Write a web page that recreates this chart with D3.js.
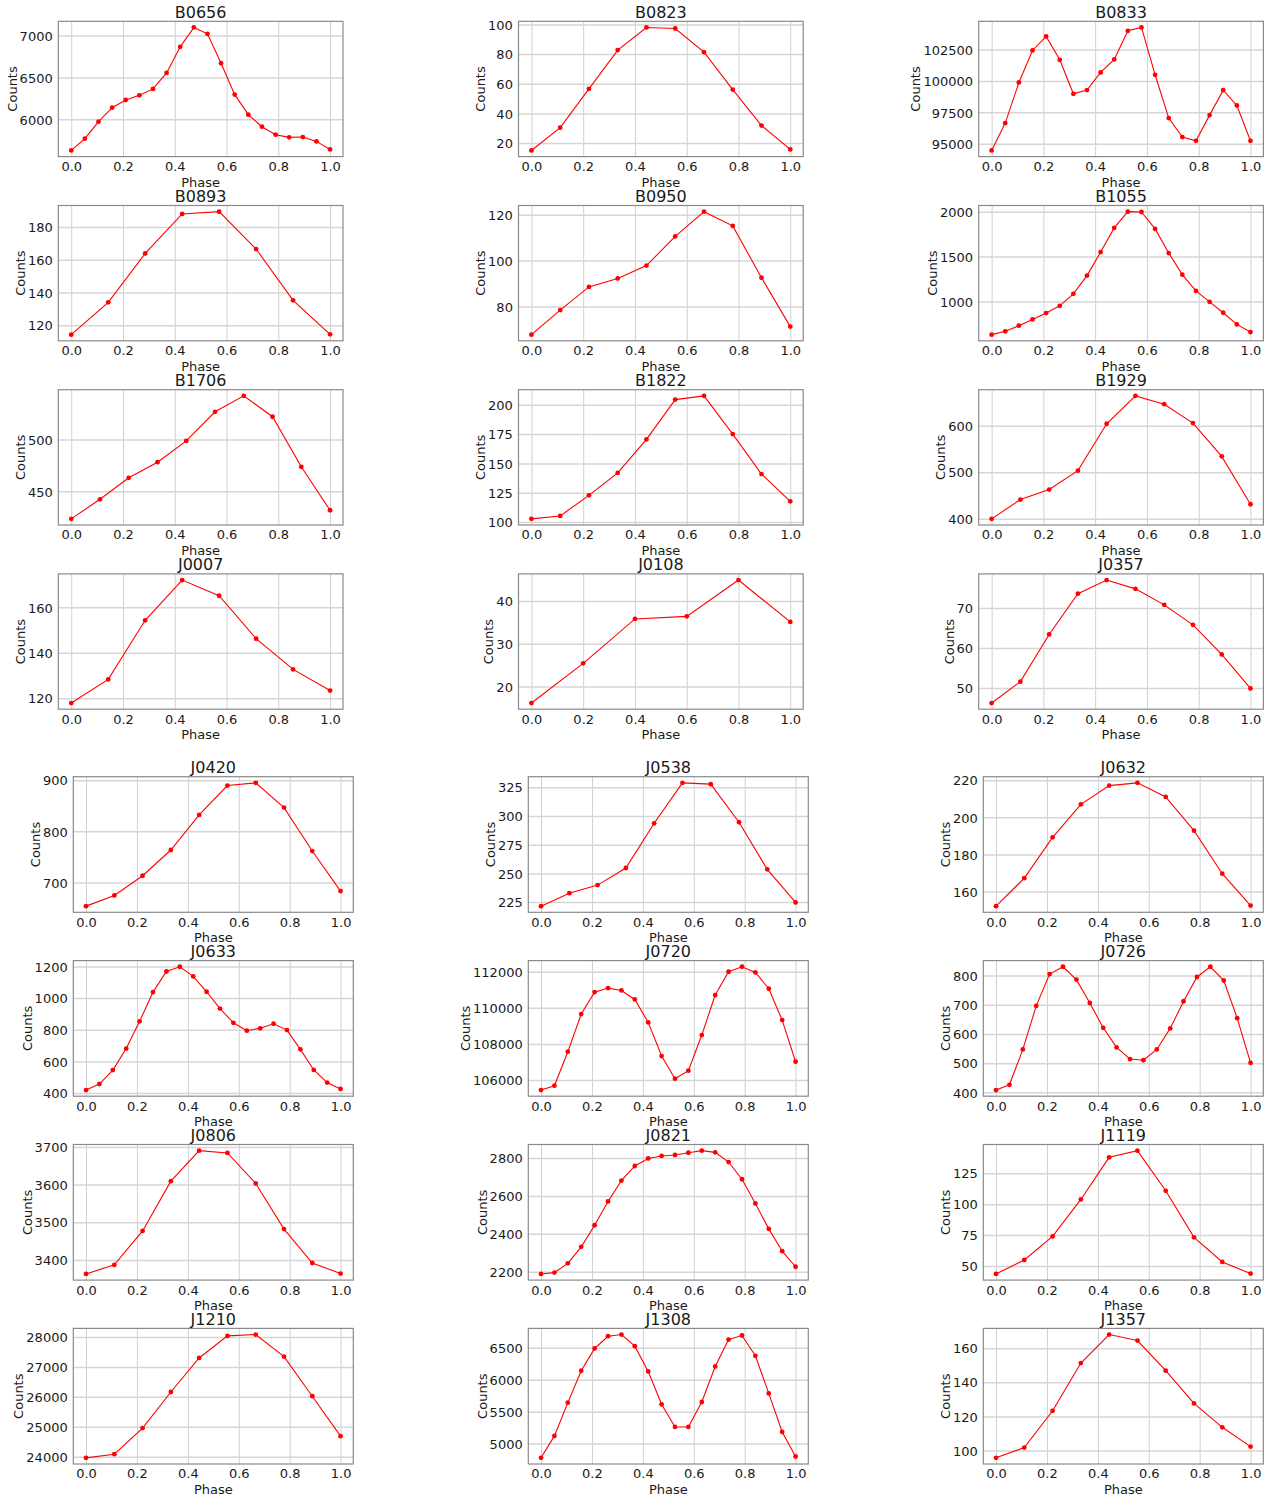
<!DOCTYPE html>
<html>
<head>
<meta charset="utf-8">
<script src="https://cdn.jsdelivr.net/npm/d3@7"></script>
<style>
  html, body { margin: 0; padding: 0; background: #ffffff; }
  svg { display: block; }
  text { font-family: "DejaVu Sans", sans-serif; fill: #1a1a1a; }
</style>
</head>
<body>
<svg id="chart" width="1268" height="1498"></svg>
<script>
// ---------------- DATA ----------------
const phase20 = [0, 0.0526, 0.1053, 0.1579, 0.2105, 0.2632, 0.3158, 0.3684, 0.4211, 0.4737,
                 0.5263, 0.5789, 0.6316, 0.6842, 0.7368, 0.7895, 0.8421, 0.8947, 0.9474, 1];
const phase10 = [0, 0.1111, 0.2222, 0.3333, 0.4444, 0.5556, 0.6667, 0.7778, 0.8889, 1];
const phase8  = [0, 0.1429, 0.2857, 0.4286, 0.5714, 0.7143, 0.8571, 1];
const phase6  = [0, 0.2, 0.4, 0.6, 0.8, 1];

const xTicks = [0, 0.2, 0.4, 0.6, 0.8, 1.0];

// series values (Counts)
const B0656 = [5629, 5769, 5972, 6139, 6231, 6287, 6363, 6554, 6865, 7096, 7020, 6669, 6295, 6056, 5912, 5817, 5785, 5789, 5737, 5641];
const B0823 = [15.0, 30.4, 56.6, 82.7, 98.0, 97.3, 81.3, 56.1, 31.8, 15.7];
const B0833 = [94470, 96643, 99876, 102420, 103533, 101678, 98975, 99267, 100671, 101705, 103984, 104249, 100486, 97041, 95530, 95239, 97279, 99267, 98048, 95239];
const B0893 = [114.3, 134.0, 163.8, 187.9, 189.3, 166.5, 135.2, 114.5];
const B0950 = [67.7, 78.4, 88.5, 92.2, 97.8, 110.5, 121.3, 115.1, 92.5, 71.2];
const B1055 = [631, 668, 731, 801, 871, 952, 1085, 1288, 1550, 1819, 2000, 1996, 1808, 1539, 1299, 1118, 996, 875, 745, 660];
const B1706 = [423.4, 442.3, 463.1, 478.2, 498.7, 526.9, 542.3, 522.1, 473.7, 431.7];
const B1822 = [102.6, 105.1, 122.7, 141.8, 170.5, 204.5, 207.7, 175.0, 140.9, 117.6];
const B1929 = [400, 441.4, 462.9, 503.6, 604.3, 664.3, 646.4, 605.7, 534.3, 431.4];
const J0007 = [117.9, 128.3, 154.3, 172.0, 165.1, 146.2, 132.7, 123.4];
const J0108 = [16.1, 25.4, 35.8, 36.4, 44.9, 35.1];
const J0357 = [46.25, 51.6, 63.4, 73.6, 77.0, 74.8, 70.8, 65.8, 58.4, 49.9];
const J0420 = [653.6, 674.5, 713.1, 763.4, 832.0, 889.5, 894.8, 846.4, 761.4, 683.0];
const J0538 = [221.5, 232.8, 239.8, 254.7, 293.6, 328.8, 327.7, 294.5, 253.5, 224.7];
const J0632 = [152.1, 167.2, 189.2, 207.0, 217.1, 218.6, 211.0, 192.8, 169.6, 152.4];
const J0633 = [419, 457, 545, 681, 853, 1038, 1168, 1198, 1137, 1040, 934, 844, 794, 809, 838, 798, 676, 546, 466, 426];
const J0720 = [105446, 105686, 107569, 109655, 110873, 111095, 110966, 110467, 109194, 107329, 106074, 106517, 108492, 110707, 112000, 112277, 111963, 111058, 109323, 107015];
const J0726 = [408, 426, 547, 696, 805, 830, 786, 706, 621, 554, 514, 510, 547, 619, 712, 795, 830, 783, 654, 501];
const J0806 = [3363, 3387, 3477, 3609, 3690, 3684, 3603, 3482, 3392, 3364];
const J0821 = [2188, 2195, 2244, 2331, 2445, 2571, 2681, 2758, 2798, 2811, 2816, 2828, 2839, 2830, 2779, 2688, 2560, 2426, 2308, 2226];
const J1119 = [43.5, 54.8, 73.9, 103.8, 137.9, 143.3, 110.8, 73.1, 53.2, 43.8];
const J1210 = [23967, 24089, 24958, 26162, 27298, 28033, 28078, 27343, 26022, 24691];
const J1308 = [4776, 5120, 5641, 6141, 6490, 6682, 6708, 6526, 6130, 5615, 5260, 5260, 5651, 6208, 6630, 6693, 6375, 5786, 5182, 4797];
const J1357 = [95.7, 101.7, 123.3, 151.3, 168.0, 164.5, 146.8, 127.6, 113.6, 102.3];

// y tick labels per panel
const ticksB0656 = [6000, 6500, 7000];
const ticksB0823 = [20, 40, 60, 80, 100];
const ticksB0833 = [95000, 97500, 100000, 102500];
const ticksB0893 = [120, 140, 160, 180];
const ticksB0950 = [80, 100, 120];
const ticksB1055 = [1000, 1500, 2000];
const ticksB1706 = [450, 500];
const ticksB1822 = [100, 125, 150, 175, 200];
const ticksB1929 = [400, 500, 600];
const ticksJ0007 = [120, 140, 160];
const ticksJ0108 = [20, 30, 40];
const ticksJ0357 = [50, 60, 70];
const ticksJ0420 = [700, 800, 900];
const ticksJ0538 = [225, 250, 275, 300, 325];
const ticksJ0632 = [160, 180, 200, 220];
const ticksJ0633 = [400, 600, 800, 1000, 1200];
const ticksJ0720 = [106000, 108000, 110000, 112000];
const ticksJ0726 = [400, 500, 600, 700, 800];
const ticksJ0806 = [3400, 3500, 3600, 3700];
const ticksJ0821 = [2200, 2400, 2600, 2800];
const ticksJ1119 = [50, 75, 100, 125];
const ticksJ1210 = [24000, 25000, 26000, 27000, 28000];
const ticksJ1308 = [5000, 5500, 6000, 6500];
const ticksJ1357 = [100, 120, 140, 160];

const names = ["B0656","B0823","B0833","B0893","B0950","B1055","B1706","B1822","B1929","J0007","J0108","J0357",
               "J0420","J0538","J0632","J0633","J0720","J0726","J0806","J0821","J1119","J1210","J1308","J1357"];
const seriesList = [B0656,B0823,B0833,B0893,B0950,B1055,B1706,B1822,B1929,J0007,J0108,J0357,
                    J0420,J0538,J0632,J0633,J0720,J0726,J0806,J0821,J1119,J1210,J1308,J1357];
const phaseList = [phase20,phase10,phase20,phase8,phase10,phase20,phase10,phase10,phase10,phase8,phase6,phase10,
                   phase10,phase10,phase10,phase20,phase20,phase20,phase10,phase20,phase10,phase10,phase20,phase10];
const tickList = [ticksB0656,ticksB0823,ticksB0833,ticksB0893,ticksB0950,ticksB1055,ticksB1706,ticksB1822,ticksB1929,
                  ticksJ0007,ticksJ0108,ticksJ0357,ticksJ0420,ticksJ0538,ticksJ0632,ticksJ0633,ticksJ0720,ticksJ0726,
                  ticksJ0806,ticksJ0821,ticksJ1119,ticksJ1210,ticksJ1308,ticksJ1357];

// ---------------- LAYOUT ----------------
const fig1 = { left0: 58.3, colStep: 460.2, width: 284.7, top0: 21.3, rowStep: 184.2, height: 135.3 };
const fig2 = { left0: 73.3, colStep: 455.0, width: 280.0, top0: 776.7, rowStep: 183.9, height: 135.6 };

const svg = d3.select("#chart");
const TICK_FS = 13, LABEL_FS = 13, TITLE_FS = 16;

names.forEach((name, idx) => {
  const fig = idx < 12 ? fig1 : fig2;
  const local = idx % 12;
  const r = Math.floor(local / 3), c = local % 3;
  const left = fig.left0 + c * fig.colStep;
  const top = fig.top0 + r * fig.rowStep;
  const W = fig.width, H = fig.height;

  const vals = seriesList[idx];
  const ph = phaseList[idx];
  const yt = tickList[idx];
  const data = ph.map((p, i) => ({ p, v: vals[i] }));

  const [mn, mx] = d3.extent(vals);
  const pad = (mx - mn) * 0.05;
  const x = d3.scaleLinear().domain([-0.05, 1.05]).range([0, W]);
  const y = d3.scaleLinear().domain([mn - pad, mx + pad]).range([H, 0]);

  const g = svg.append("g").attr("transform", `translate(${left},${top})`);

  // grid
  g.append("g").attr("class", "vgrid")
    .call(d3.axisBottom(x).tickValues(xTicks).tickSize(H).tickFormat(""))
    .call(s => s.select(".domain").remove())
    .selectAll("line").attr("stroke", "#d0d0d0").attr("stroke-width", 1);
  g.append("g").attr("class", "hgrid")
    .call(d3.axisLeft(y).tickValues(yt).tickSize(-W).tickFormat(""))
    .call(s => s.select(".domain").remove())
    .selectAll("line").attr("stroke", "#d6d6d6").attr("stroke-width", 1.5);

  // frame
  g.append("rect").attr("x", 0).attr("y", 0).attr("width", W).attr("height", H)
    .attr("fill", "none").attr("stroke", "#8a8a8a").attr("stroke-width", 1.2);

  // x axis labels
  const xa = g.append("g").attr("transform", `translate(0,${H})`)
    .call(d3.axisBottom(x).tickValues(xTicks).tickSize(0).tickPadding(5.2).tickFormat(d3.format(".1f")));
  xa.select(".domain").remove();
  xa.selectAll("text").attr("font-size", TICK_FS).attr("font-family", "DejaVu Sans").attr("fill", "#1a1a1a");

  // y axis labels
  const ya = g.append("g")
    .call(d3.axisLeft(y).tickValues(yt).tickSize(0).tickPadding(5.6).tickFormat(d3.format("d")));
  ya.select(".domain").remove();
  ya.selectAll("text").attr("font-size", TICK_FS).attr("font-family", "DejaVu Sans").attr("fill", "#1a1a1a")
    .attr("dy", "0.36em");

  let maxW = 0;
  ya.selectAll("text").each(function () { maxW = Math.max(maxW, this.getBBox().width); });

  // line + markers
  g.append("path").datum(data)
    .attr("fill", "none").attr("stroke", "#ff0000").attr("stroke-width", 1.1)
    .attr("d", d3.line().x(d => x(d.p)).y(d => y(d.v)));
  g.selectAll("circle.pt").data(data).enter().append("circle")
    .attr("class", "pt")
    .attr("cx", d => x(d.p)).attr("cy", d => y(d.v)).attr("r", 2.4)
    .attr("fill", "#ff0000");

  // title
  g.append("text").attr("x", W / 2).attr("y", -3.5).attr("text-anchor", "middle")
    .attr("font-size", TITLE_FS).text(name);

  // x label
  g.append("text").attr("x", W / 2).attr("y", H + 30).attr("text-anchor", "middle")
    .attr("font-size", LABEL_FS).text("Phase");

  // y label
  const lx = -5.6 - maxW - 3;
  g.append("text").attr("transform", `translate(${lx},${H / 2}) rotate(-90)`)
    .attr("text-anchor", "middle").attr("font-size", LABEL_FS).text("Counts");
});
</script>
</body>
</html>
